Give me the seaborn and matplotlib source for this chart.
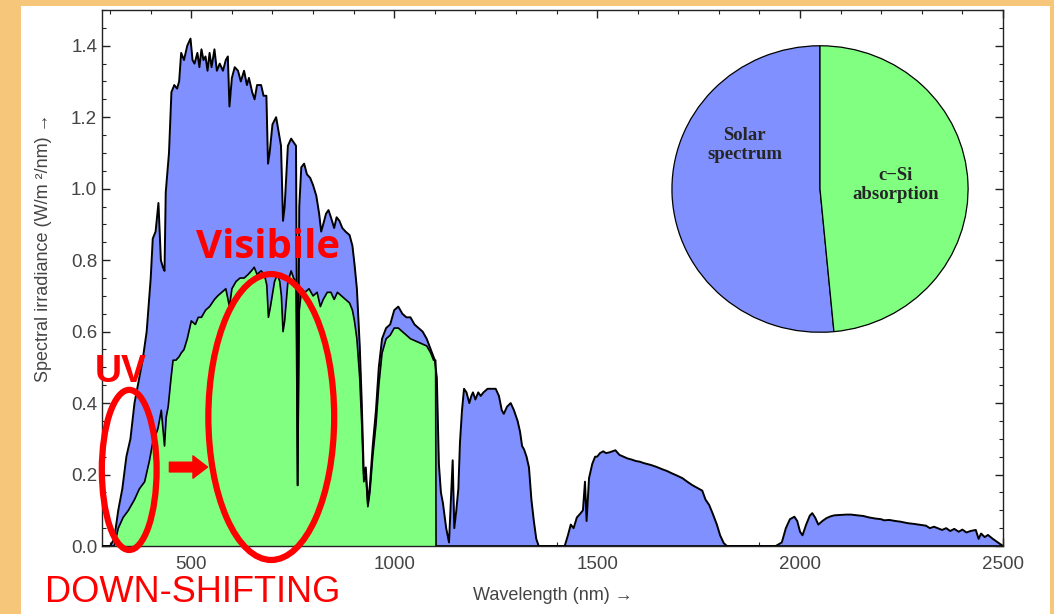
import numpy as np
import pandas as pd
import matplotlib
matplotlib.use('Agg')
import matplotlib.pyplot as plt
import seaborn as sns
from matplotlib.patches import Ellipse, Rectangle
from matplotlib.ticker import MultipleLocator

# spettro solare (AM1.5)
solar_nm = [280, 300, 310, 320, 330, 340, 350, 360, 370, 380, 390, 400, 405, 412, 419, 425, 430, 434,
            437, 445, 451, 458, 465, 470, 475, 482, 490, 498, 503, 508, 515, 520, 525, 530, 535, 540,
            545, 550, 557, 563, 570, 578, 585, 590, 594, 600, 607, 615, 622, 630, 637, 642, 650, 656,
            662, 672, 678, 685, 689, 693, 700, 709, 715, 721, 726, 730, 738, 746, 752, 758, 762, 766,
            771, 778, 785, 793, 800, 808, 815, 820, 825, 832, 838, 844, 852, 858, 865, 872, 880, 890,
            897, 902, 908, 915, 920, 925, 930, 935, 940, 947, 955, 962, 970, 980, 990, 1000, 1010,
            1020, 1030, 1040, 1050, 1060, 1070, 1080, 1090, 1100, 1105, 1110, 1115, 1120, 1128, 1135,
            1144, 1148, 1153, 1158, 1162, 1167, 1172, 1178, 1185, 1190, 1194, 1200, 1207, 1213, 1220,
            1230, 1240, 1250, 1258, 1265, 1270, 1278, 1287, 1295, 1304, 1310, 1315, 1320, 1326, 1332,
            1338, 1344, 1350, 1356, 1420, 1428, 1435, 1442, 1450, 1458, 1465, 1470, 1474, 1480, 1488,
            1495, 1500, 1507, 1515, 1522, 1530, 1545, 1555, 1565, 1575, 1585, 1595, 1605, 1615, 1632,
            1645, 1660, 1672, 1683, 1695, 1710, 1722, 1735, 1748, 1759, 1767, 1776, 1785, 1795, 1803,
            1812, 1820, 1940, 1955, 1965, 1975, 1986, 1993, 2000, 2006, 2015, 2024, 2030, 2037, 2045,
            2055, 2065, 2075, 2085, 2100, 2115, 2125, 2140, 2156, 2170, 2185, 2200, 2207, 2220, 2235,
            2248, 2265, 2280, 2299, 2310, 2320, 2330, 2350, 2360, 2370, 2380, 2391, 2400, 2410, 2420,
            2433, 2440, 2446, 2455, 2463, 2475, 2490, 2500]
solar_irr = [0.0, 0.0, 0.02, 0.10, 0.16, 0.25, 0.30, 0.40, 0.46, 0.52, 0.60, 0.75, 0.86, 0.88, 0.96, 0.80,
             0.78, 0.77, 0.99, 1.10, 1.27, 1.29, 1.28, 1.30, 1.38, 1.36, 1.40, 1.42, 1.36, 1.35, 1.38,
             1.34, 1.39, 1.36, 1.37, 1.33, 1.38, 1.34, 1.39, 1.33, 1.35, 1.33, 1.36, 1.37, 1.23, 1.31,
             1.34, 1.33, 1.30, 1.33, 1.29, 1.31, 1.27, 1.25, 1.29, 1.29, 1.26, 1.26, 1.07, 1.10, 1.18,
             1.20, 1.16, 1.12, 0.91, 0.95, 1.12, 1.14, 1.13, 1.12, 0.17, 0.95, 1.06, 1.07, 1.04, 1.03,
             1.01, 0.98, 0.93, 0.88, 0.90, 0.93, 0.94, 0.92, 0.89, 0.92, 0.91, 0.89, 0.88, 0.87, 0.84,
             0.79, 0.72, 0.56, 0.40, 0.20, 0.22, 0.12, 0.17, 0.28, 0.38, 0.50, 0.58, 0.61, 0.62, 0.66,
             0.67, 0.65, 0.64, 0.64, 0.62, 0.61, 0.60, 0.58, 0.55, 0.52, 0.47, 0.23, 0.15, 0.12, 0.05,
             0.01, 0.24, 0.05, 0.10, 0.16, 0.29, 0.38, 0.44, 0.43, 0.40, 0.42, 0.43, 0.41, 0.43, 0.42,
             0.43, 0.44, 0.44, 0.44, 0.42, 0.38, 0.37, 0.39, 0.40, 0.38, 0.35, 0.32, 0.28, 0.27, 0.25,
             0.22, 0.13, 0.07, 0.02, 0.0, 0.0, 0.03, 0.06, 0.05, 0.08, 0.09, 0.10, 0.18, 0.07, 0.19,
             0.23, 0.25, 0.25, 0.26, 0.265, 0.26, 0.262, 0.268, 0.255, 0.25, 0.245, 0.242, 0.238, 0.236,
             0.232, 0.227, 0.222, 0.215, 0.21, 0.204, 0.198, 0.19, 0.18, 0.17, 0.162, 0.155, 0.13,
             0.115, 0.09, 0.06, 0.03, 0.008, 0.0, 0.0, 0.01, 0.05, 0.075, 0.082, 0.07, 0.04, 0.03,
             0.06, 0.085, 0.092, 0.08, 0.06, 0.07, 0.078, 0.083, 0.086, 0.087, 0.088, 0.088, 0.086,
             0.084, 0.08, 0.077, 0.075, 0.072, 0.073, 0.07, 0.068, 0.064, 0.062, 0.059, 0.057, 0.050,
             0.054, 0.045, 0.05, 0.042, 0.048, 0.04, 0.046, 0.038, 0.042, 0.045, 0.02, 0.035, 0.025,
             0.031, 0.02, 0.008, 0.0]

# parte assorbita dal c-Si
csi_nm = [280, 300, 310, 320, 332, 345, 360, 372, 385, 397, 405, 412, 418, 426, 430, 434, 438, 443,
          450, 455, 462, 470, 475, 482, 490, 500, 510, 517, 525, 535, 545, 557, 565, 575, 585, 594,
          600, 610, 620, 630, 640, 648, 655, 662, 672, 680, 686, 690, 695, 705, 712, 718, 722, 726,
          730, 738, 746, 752, 758, 762, 766, 772, 780, 790, 800, 810, 818, 825, 835, 844, 852, 860,
          870, 880, 890, 897, 902, 908, 915, 920, 925, 930, 935, 940, 947, 955, 962, 970, 980, 990,
          1000, 1010, 1020, 1030, 1040, 1050, 1060, 1070, 1080, 1090, 1097, 1102, 1103, 2500]
csi_irr = [0.0, 0.0, 0.0, 0.05, 0.08, 0.10, 0.13, 0.16, 0.18, 0.24, 0.29, 0.31, 0.33, 0.38, 0.33, 0.28,
           0.36, 0.39, 0.47, 0.52, 0.52, 0.53, 0.54, 0.55, 0.58, 0.63, 0.62, 0.64, 0.64, 0.66, 0.67,
           0.69, 0.70, 0.71, 0.72, 0.67, 0.72, 0.74, 0.75, 0.75, 0.76, 0.77, 0.78, 0.76, 0.77, 0.76,
           0.73, 0.64, 0.67, 0.74, 0.76, 0.74, 0.70, 0.60, 0.63, 0.74, 0.77, 0.75, 0.74, 0.17, 0.66,
           0.72, 0.71, 0.72, 0.70, 0.71, 0.67, 0.69, 0.71, 0.71, 0.69, 0.71, 0.70, 0.69, 0.68, 0.66,
           0.63, 0.58, 0.47, 0.34, 0.18, 0.20, 0.11, 0.15, 0.25, 0.34, 0.45, 0.54, 0.58, 0.59, 0.61,
           0.61, 0.60, 0.59, 0.58, 0.575, 0.57, 0.565, 0.56, 0.54, 0.52, 0.52, 0.0, 0.0]

# torta: frazione di energia
pie_labels = ['Solar\nspectrum', 'c\u2212Si\nabsorption']
pie_values = [51.5, 48.5]

blu = '#8090FF'
verde = '#80FF80'
rosso = '#FF0000'

df_sol = pd.DataFrame({'nm': solar_nm, 'irr': solar_irr})
df_si = pd.DataFrame({'nm': csi_nm, 'irr': csi_irr})

sns.set_style('ticks')
plt.rcParams['font.family'] = ['Liberation Sans', 'DejaVu Sans']

fig = plt.figure(figsize=(10.54, 6.14), dpi=100)
fig.patch.set_facecolor('#F6C67B')
fig.patches.append(Rectangle((0.0199, 0.0), 0.9763, 0.9902, transform=fig.transFigure,
                             facecolor='white', edgecolor='none', zorder=-10))

ax = fig.add_axes([0.0968, 0.1107, 0.8548, 0.873])
ax.set_facecolor('none')

ax.fill_between(df_sol['nm'], 0, df_sol['irr'], color=blu, lw=0, zorder=1)
ax.fill_between(df_si['nm'], 0, df_si['irr'], color=verde, lw=0, zorder=2)
sns.lineplot(data=df_sol, x='nm', y='irr', color='black', lw=1.4, ax=ax, zorder=3)
sns.lineplot(data=df_si, x='nm', y='irr', color='black', lw=1.2, ax=ax, zorder=3)

ax.set_xlim(280, 2500)
ax.set_ylim(0, 1.5)
ax.xaxis.set_major_locator(MultipleLocator(500))
ax.xaxis.set_minor_locator(MultipleLocator(100))
ax.yaxis.set_major_locator(MultipleLocator(0.2))
ax.yaxis.set_minor_locator(MultipleLocator(0.05))
ax.tick_params(which='both', direction='in', top=True, right=True, color='#222222',
               labelcolor='#444444', labelsize=13.5)
ax.tick_params(which='major', length=6, width=1)
ax.tick_params(which='minor', length=3, width=0.8)
ax.tick_params(axis='x', pad=7)
for s in ax.spines.values():
    s.set_color('#222222')
    s.set_linewidth(1)

ax.set_xlabel('Wavelength (nm) \u2192', fontsize=13, color='#444444')
ax.set_ylabel('Spectral irradiance (W/m \u00b2/nm) \u2192', fontsize=13, color='#444444')
ax.xaxis.set_label_coords(0.5, -0.077)
ax.yaxis.set_label_coords(-0.056, 0.556)

# annotazioni in rosso
ax.add_patch(Ellipse((347, 0.213), 135, 0.448, fill=False, edgecolor=rosso, lw=4.5,
                     zorder=5, clip_on=False))
ax.add_patch(Ellipse((697, 0.361), 310, 0.80, fill=False, edgecolor=rosso, lw=4.5,
                     zorder=5, clip_on=False))
ax.annotate('', xy=(540, 0.221), xytext=(446, 0.221),
            arrowprops=dict(arrowstyle='simple,head_length=0.75,head_width=1.15,tail_width=0.5',
                            color=rosso, shrinkA=0, shrinkB=0, mutation_scale=14), zorder=5)
ax.text(512, 0.807, 'Visibile', color=rosso, fontsize=29, fontweight='bold',
        family=['Open Sans', 'DejaVu Sans'], ha='left', va='baseline', zorder=6)
ax.text(261, 0.459, 'UV', color=rosso, fontsize=27, fontweight='bold',
        ha='left', va='baseline', zorder=6)
fig.text(45 / 1054, 12 / 614, 'DOWN-SHIFTING', color=rosso, fontsize=26,
         ha='left', va='baseline')

# torta inserita
ax_pie = fig.add_axes([0.6319, 0.4495, 0.2922, 0.4853])
ax_pie.pie(pie_values, colors=[blu, verde], startangle=90, counterclock=True,
           wedgeprops=dict(edgecolor='black', linewidth=0.9))
ax_pie.set_aspect('auto')
ax_pie.set_xlim(-1.04, 1.04)
ax_pie.set_ylim(-1.04, 1.04)
ax_pie.axis('off')
ax_pie.text(-0.51, 0.31, pie_labels[0], ha='center', va='center', fontsize=13.5,
            fontweight='bold', family=['Liberation Serif', 'DejaVu Serif'], linespacing=1.15)
ax_pie.text(0.51, 0.03, pie_labels[1], ha='center', va='center', fontsize=13.5,
            fontweight='bold', family=['Liberation Serif', 'DejaVu Serif'], linespacing=1.15)

plt.savefig('out.png', dpi=100, facecolor=fig.get_facecolor())
